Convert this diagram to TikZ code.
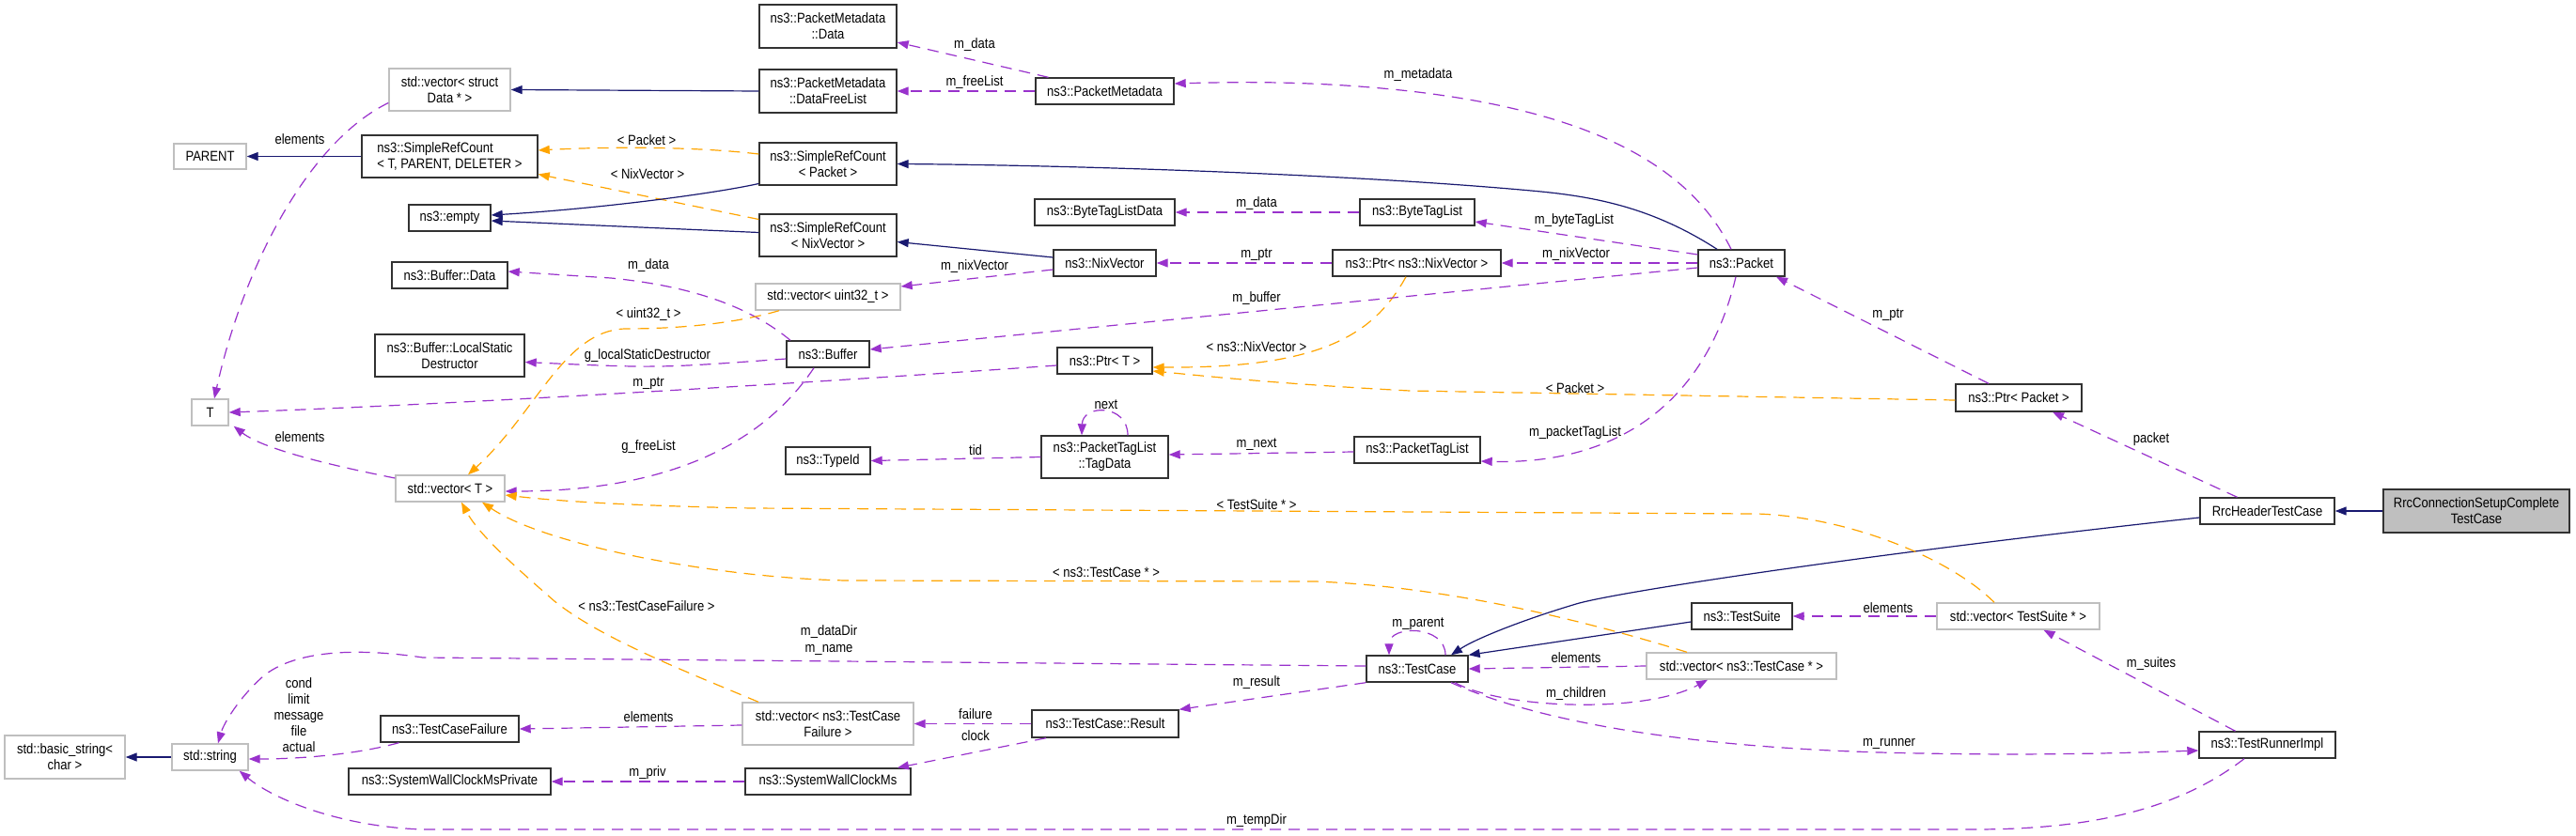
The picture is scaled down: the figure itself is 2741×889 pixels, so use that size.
\documentclass[tikz,border=0pt]{standalone}
\usepackage{fontspec}
\setmainfont{Liberation Sans}[FakeStretch=0.87]
\usetikzlibrary{arrows.meta}
\definecolor{navy}{RGB}{25,25,112}
\definecolor{orch}{RGB}{153,50,204}
\definecolor{orng}{RGB}{255,165,0}
\definecolor{gbord}{RGB}{191,191,191}
\definecolor{dbord}{RGB}{50,50,50}
\begin{document}
\begin{tikzpicture}[x=1pt,y=-1pt,
  font=\fontsize{15}{17}\selectfont,
  box/.style={draw=dbord, line width=1.4pt, rectangle, inner sep=0pt, align=center, fill=white},
  gbox/.style={box, draw=gbord},
  sz/.style 2 args={minimum width=#1pt, minimum height=#2pt},
  lbl/.style={inner sep=0pt, align=center},
  tip/.style={-{Triangle[length=12pt,width=9pt]}},
  inh/.style={tip, draw=navy, line width=1.2pt},
  use/.style={tip, draw=orch, line width=1.2pt, dash pattern=on 12pt off 8pt},
  tpl/.style={tip, draw=orng, line width=1.2pt, dash pattern=on 12pt off 8pt},
]
\fill[white] (0,0) rectangle (2741,889);
\useasboundingbox (0,0) rectangle (2741,889);

% ---- nodes ----
\node[gbox, sz={129}{45}] (vdata) at (478.5,95.5) {std::vector< struct\\Data * >};
\node[gbox, sz={77}{27}] (parent) at (223.5,166.5) {PARENT};
\node[box, sz={187}{45}, align=left] (src) at (478.5,166.5) {ns3::SimpleRefCount\\< T, PARENT, DELETER >};
\node[box, sz={87}{28}] (empty) at (478.5,232) {ns3::empty};
\node[box, sz={123}{28}] (bufdata) at (478.5,293) {ns3::Buffer::Data};
\node[box, sz={159}{45}] (lsd) at (478.5,378.5) {ns3::Buffer::LocalStatic\\Destructor};
\node[gbox, sz={39}{28}] (T) at (223.5,439) {T};
\node[gbox, sz={116}{28}] (vT) at (479,520) {std::vector< T >};
\node[gbox, sz={128}{46}] (bstr) at (69,806) {std::basic\_string<\\char >};
\node[gbox, sz={81}{28}] (str) at (223.5,806) {std::string};
\node[box, sz={147}{28}] (tcf) at (478.5,776) {ns3::TestCaseFailure};
\node[box, sz={215}{28}] (swcmp) at (478.5,832) {ns3::SystemWallClockMsPrivate};
\node[box, sz={146}{46}] (pmdata) at (881,28) {ns3::PacketMetadata\\::Data};
\node[box, sz={146}{46}] (pmdfl) at (881,97) {ns3::PacketMetadata\\::DataFreeList};
\node[box, sz={146}{45}] (srcp) at (881,174.5) {ns3::SimpleRefCount\\< Packet >};
\node[box, sz={146}{45}] (srcn) at (881,250.5) {ns3::SimpleRefCount\\< NixVector >};
\node[gbox, sz={154}{28}] (vu32) at (881,316) {std::vector< uint32\_t >};
\node[box, sz={88}{28}] (buffer) at (881,377) {ns3::Buffer};
\node[box, sz={90}{29}] (typeid) at (881,490.5) {ns3::TypeId};
\node[gbox, sz={182}{45}] (vtcf) at (881,770.5) {std::vector< ns3::TestCase\\Failure >};
\node[box, sz={176}{28}] (swcm) at (881,832) {ns3::SystemWallClockMs};
\node[box, sz={147}{28}] (pm) at (1175.5,97) {ns3::PacketMetadata};
\node[box, sz={149}{28}] (btld) at (1175.5,226) {ns3::ByteTagListData};
\node[box, sz={109}{28}] (nix) at (1175.5,280) {ns3::NixVector};
\node[box, sz={101}{28}] (ptrT) at (1175.5,384) {ns3::Ptr< T >};
\node[box, sz={135}{45}] (tagdata) at (1175.5,486.5) {ns3::PacketTagList\\::TagData};
\node[box, sz={156}{29}] (result) at (1176,770.5) {ns3::TestCase::Result};
\node[box, sz={122}{28}] (btl) at (1508,226) {ns3::ByteTagList};
\node[box, sz={179}{28}] (ptrnix) at (1507.5,280) {ns3::Ptr< ns3::NixVector >};
\node[box, sz={134}{28}] (ptl) at (1508,479) {ns3::PacketTagList};
\node[box, sz={108}{28}] (tc) at (1508,712) {ns3::TestCase};
\node[box, sz={92}{28}] (packet) at (1853,280) {ns3::Packet};
\node[box, sz={107}{28}] (ts) at (1853.5,656) {ns3::TestSuite};
\node[gbox, sz={202}{28}] (vtc) at (1853,709) {std::vector< ns3::TestCase * >};
\node[box, sz={134}{29}] (ptrp) at (2148,423.5) {ns3::Ptr< Packet >};
\node[gbox, sz={173}{28}] (vts) at (2147.5,656) {std::vector< TestSuite * >};
\node[box, sz={143}{28}] (rrch) at (2412.5,544) {RrcHeaderTestCase};
\node[box, sz={145}{28}] (tri) at (2412.5,793) {ns3::TestRunnerImpl};
\node[box, sz={198}{46}, fill=gbord] (rrc) at (2635,544) {RrcConnectionSetupComplete\\TestCase};

% ---- edges ----
\draw[inh] (rrc.west) -- (rrch.east);
\draw[inh] ([yshift=-7pt]rrch.west) .. controls (2000,588) and (1720,630) .. (1677,643) .. controls (1620,660) and (1570,680) .. ([xshift=36pt]tc.north);
\draw[inh] ([yshift=-6pt]ts.west) -- (tc.north east);
\draw[use] ([xshift=-32pt]rrch.north) -- ([xshift=36pt]ptrp.south);
\draw[use] ([xshift=-32pt]ptrp.north) -- ([xshift=37pt]packet.south);
\draw[tpl] ([yshift=-2.5pt]ptrp.west) -- (1500,416) .. controls (1350,408) and (1280,400) .. ([yshift=-11pt]ptrT.east);
\draw[tpl] ([xshift=-11.5pt]ptrnix.south) .. controls (1460,360) and (1400,392) .. ([yshift=-7pt]ptrT.east);
\draw[use] (packet.west) -- (ptrnix.east);
\draw[use] ([yshift=9pt]packet.west) -- ([yshift=-10pt]btl.east);
\draw[use] ([xshift=-11pt]packet.north) .. controls (1800,180) and (1700,120) .. (1500,97) .. controls (1400,86) and (1320,87) .. ([yshift=8pt]pm.east);
\draw[inh] ([xshift=-26pt]packet.north) .. controls (1760,222) and (1700,210) .. (1640,204) .. controls (1450,186) and (1150,176) .. (srcp.east);
\draw[use] ([yshift=-5pt]packet.west) -- ([yshift=5pt]buffer.east);
\draw[use] ([xshift=-6pt]packet.south) .. controls (1815,430) and (1720,495) .. ([yshift=-12pt]ptl.east);
\draw[inh] ([yshift=6pt]nix.west) -- ([yshift=-7pt]srcn.east);
\draw[use] ([yshift=-7pt]nix.west) -- ([yshift=11pt]vu32.east);
\draw[use] (ptrnix.west) -- (nix.east);
\draw[use] (btl.west) -- (btld.east);
\draw[use] ([xshift=-60pt]pm.north) -- ([yshift=-17pt]pmdata.east);
\draw[use] (pm.west) -- (pmdfl.east);
\draw[inh] (pmdfl.west) -- (vdata.east);
\draw[use] ([yshift=-14pt]vdata.west) .. controls (330,150) and (260,280) .. ([xshift=4.5pt]T.north);
\draw[inh] (src.west) -- (parent.east);
\draw[tpl] ([yshift=10.5pt]srcp.west) .. controls (740,156) and (650,156) .. ([yshift=6.5pt]src.east);
\draw[tpl] ([yshift=17pt]srcn.west) -- ([yshift=-19pt]src.east);
\draw[inh] ([yshift=-21pt]srcp.west) .. controls (760,206) and (640,222) .. ([yshift=3pt]empty.east);
\draw[inh] ([yshift=3pt]srcn.west) -- ([yshift=-3pt]empty.east);
\draw[use] ([xshift=-40pt]buffer.north) .. controls (790,320) and (720,303) .. (650,296) -- ([yshift=4pt]bufdata.east);
\draw[use] ([yshift=-5pt]buffer.west) .. controls (700,392) .. ([yshift=-7pt]lsd.east);
\draw[use] ([xshift=-15pt]buffer.south) .. controls (800,490) and (680,523) .. ([yshift=-3pt]vT.east);
\draw[use] ([yshift=-5pt]ptrT.west) .. controls (900,405) and (500,430) .. (T.east);
\draw[tpl] ([xshift=-52pt]vu32.south) .. controls (780,345) and (720,350) .. (665,350) .. controls (600,352) and (570,440) .. ([xshift=19pt]vT.north);
\draw[tpl] ([xshift=-25.5pt]vts.north) .. controls (2070,590) and (1960,550) .. (1870,547) -- (800,541) .. controls (650,538) and (580,532) .. ([yshift=-7pt]vT.east);
\draw[tpl] ([xshift=-58pt]vtc.north) .. controls (1700,665) and (1550,625) .. (1400,619) -- (900,618) .. controls (760,615) and (580,580) .. ([xshift=34pt]vT.south);
\draw[tpl] ([xshift=-74pt]vtcf.north) .. controls (730,715) and (640,680) .. (590,640) .. controls (550,605) and (510,570) .. ([xshift=12pt]vT.south);
\draw[use] ([yshift=11pt]vT.west) .. controls (350,495) and (280,478) .. ([xshift=5pt]T.south east);
\draw[use] ([yshift=-2pt]ptl.west) -- ([yshift=2.5pt]tagdata.east);
\draw[use] (tagdata.west) -- (typeid.east);
\draw[use] ([xshift=24.5pt]tagdata.north) .. controls (1200,430) and (1152,430) .. ([xshift=-24.5pt]tagdata.north);
\draw[use] ([xshift=30pt]tc.north) .. controls (1538,665) and (1478,665) .. ([xshift=-30pt]tc.north);
\draw[use] (vtc.west) -- (tc.east);
\draw[use] ([xshift=40pt]tc.south) .. controls (1600,755) and (1750,760) .. ([xshift=-36pt]vtc.south);
\draw[use] ([xshift=36pt]tc.south) .. controls (1640,770) and (1800,795) .. (2000,801) .. controls (2150,805) and (2250,802) .. ([yshift=-6pt]tri.west);
\draw[use] ([yshift=3pt]tc.west) -- (450,700) .. controls (370,688) and (310,695) .. (280,720) .. controls (255,742) and (238,770) .. ([xshift=8.5pt]str.north);
\draw[use] ([xshift=-24.5pt]tri.south) .. controls (2320,860) and (2230,883) .. (2100,883) -- (450,883) .. controls (360,880) and (290,850) .. ([xshift=-10pt]str.south east);
\draw[use] ([xshift=-54pt]tcf.south) .. controls (380,803) and (320,808) .. ([yshift=-2pt]str.east);
\draw[inh] (str.west) -- (bstr.east);
\draw[use] ([yshift=-1.5pt]vtcf.west) -- (tcf.east);
\draw[use] (result.west) -- (vtcf.east);
\draw[use] ([xshift=-63pt]result.south) -- ([xshift=74pt]swcm.north);
\draw[use] (swcm.west) -- (swcmp.east);
\draw[use] (tc.south west) -- (result.north east);
\draw[use] ([xshift=-34pt]tri.north) -- ([xshift=27pt]vts.south);
\draw[use] (vts.west) -- (ts.east);

% ---- labels ----
\node[lbl] (l01) at (319,148) {elements};
\node[lbl] (l02) at (688,149) {< Packet >};
\node[lbl] (l03) at (689,185) {< NixVector >};
\node[lbl] (l04) at (690,283) {m\_data};
\node[lbl] (l05) at (690,335) {< uint32\_t >};
\node[lbl] (l06) at (689,379) {g\_localStaticDestructor};
\node[lbl] (l07) at (690,408) {m\_ptr};
\node[lbl] (l08) at (319,465) {elements};
\node[lbl] (l09) at (690,476) {g\_freeList};
\node[lbl] (l10) at (688,645) {< ns3::TestCaseFailure >};
\node[lbl] (l11) at (318,761) {cond\\limit\\message\\file\\actual};
\node[lbl] (l12) at (690,763) {elements};
\node[lbl] (l13) at (689,823) {m\_priv};
\node[lbl] (l14) at (1037,48) {m\_data};
\node[lbl] (l15) at (1037,88) {m\_freeList};
\node[lbl] (l16) at (1037,284) {m\_nixVector};
\node[lbl] (l17) at (1038,479) {tid};
\node[lbl] (l18) at (1038,760) {failure};
\node[lbl] (l19) at (1038,783) {clock};
\node[lbl, font=\fontsize{15}{18}\selectfont] (l20) at (882,682) {m\_dataDir\\m\_name};
\node[lbl] (l21) at (1177,609) {< ns3::TestCase * >};
\node[lbl] (l22) at (1177,431) {next};
\node[lbl] (l23) at (1337,217) {m\_data};
\node[lbl] (l24) at (1337,271) {m\_ptr};
\node[lbl] (l25) at (1337,318) {m\_buffer};
\node[lbl] (l26) at (1337,369) {< ns3::NixVector >};
\node[lbl] (l27) at (1337,473) {m\_next};
\node[lbl] (l28) at (1337,537) {< TestSuite * >};
\node[lbl] (l29) at (1337,727) {m\_result};
\node[lbl] (l30) at (1337,874) {m\_tempDir};
\node[lbl] (l31) at (1509,80) {m\_metadata};
\node[lbl] (l32) at (1675,235) {m\_byteTagList};
\node[lbl] (l33) at (1677,271) {m\_nixVector};
\node[lbl] (l34) at (1676,413) {< Packet >};
\node[lbl] (l35) at (1676,461) {m\_packetTagList};
\node[lbl] (l36) at (1509,664) {m\_parent};
\node[lbl] (l37) at (1677,700) {elements};
\node[lbl] (l38) at (1677,739) {m\_children};
\node[lbl] (l39) at (2009,335) {m\_ptr};
\node[lbl] (l40) at (2009,647) {elements};
\node[lbl] (l41) at (2010,792) {m\_runner};
\node[lbl] (l42) at (2289,468) {packet};
\node[lbl] (l43) at (2289,707) {m\_suites};
\end{tikzpicture}
\end{document}
